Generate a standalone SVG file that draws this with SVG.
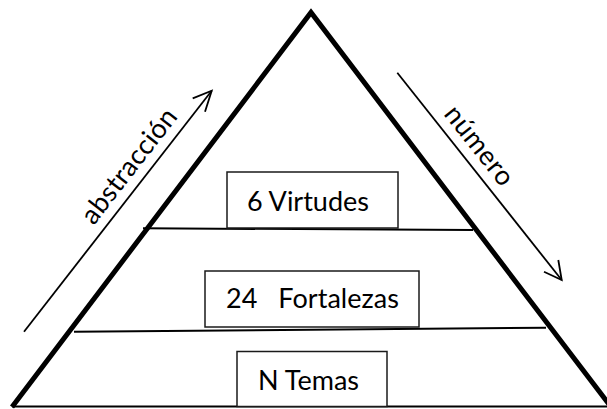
<svg xmlns="http://www.w3.org/2000/svg" width="607" height="409" viewBox="0 0 607 409">
<style>
.t{font-family:Lato,"Liberation Sans",sans-serif;font-size:27px;fill:#000;white-space:pre}
.box{fill:#fff;stroke:#1a1a1a;stroke-width:1.5}
.thin{stroke:#000;stroke-width:2;fill:none}
.arr{stroke:#000;stroke-width:1.8;fill:none}
</style>
<g id="pyramid">
<polyline points="12,407 311,12.5 611,407" fill="none" stroke="#000" stroke-width="5" stroke-linejoin="miter"/>
<line class="thin" x1="12" y1="406.5" x2="607" y2="406.5"/>
</g>
<g id="levels">
<line class="thin" x1="143" y1="228.3" x2="473" y2="230"/>
<line class="thin" x1="74" y1="331.7" x2="546" y2="327.7"/>
</g>
<g id="node-virtudes">
<rect class="box" x="227" y="172" width="171" height="56"/>
<text class="t" x="247" y="211" textLength="122">6 Virtudes</text>
</g>
<g id="node-fortalezas">
<rect class="box" x="205" y="271" width="214" height="56"/>
<text class="t" x="226" y="307.7" textLength="173">24   Fortalezas</text>
</g>
<g id="node-temas">
<rect class="box" x="237" y="351.5" width="150" height="55"/>
<text class="t" x="258" y="390" textLength="101">N Temas</text>
</g>
<g id="connectors">
<line class="arr" x1="24" y1="331.7" x2="211.7" y2="90.7"/>
<path class="arr" d="M192.7,98.3 L211.7,90.7 L205,111.7"/>
<line class="arr" x1="397.3" y1="72.7" x2="561.7" y2="280"/>
<path class="arr" d="M558.3,260 L561.7,280 L544,271.7"/>
</g>
<g id="labels">
<text class="t" transform="translate(144,177.6) rotate(-52.1)" x="0" y="-10" text-anchor="middle" textLength="138">abstracción</text>
<text class="t" transform="translate(464.4,157.3) rotate(51.6)" x="0" y="-10" text-anchor="middle" textLength="94">número</text>
</g>
</svg>
